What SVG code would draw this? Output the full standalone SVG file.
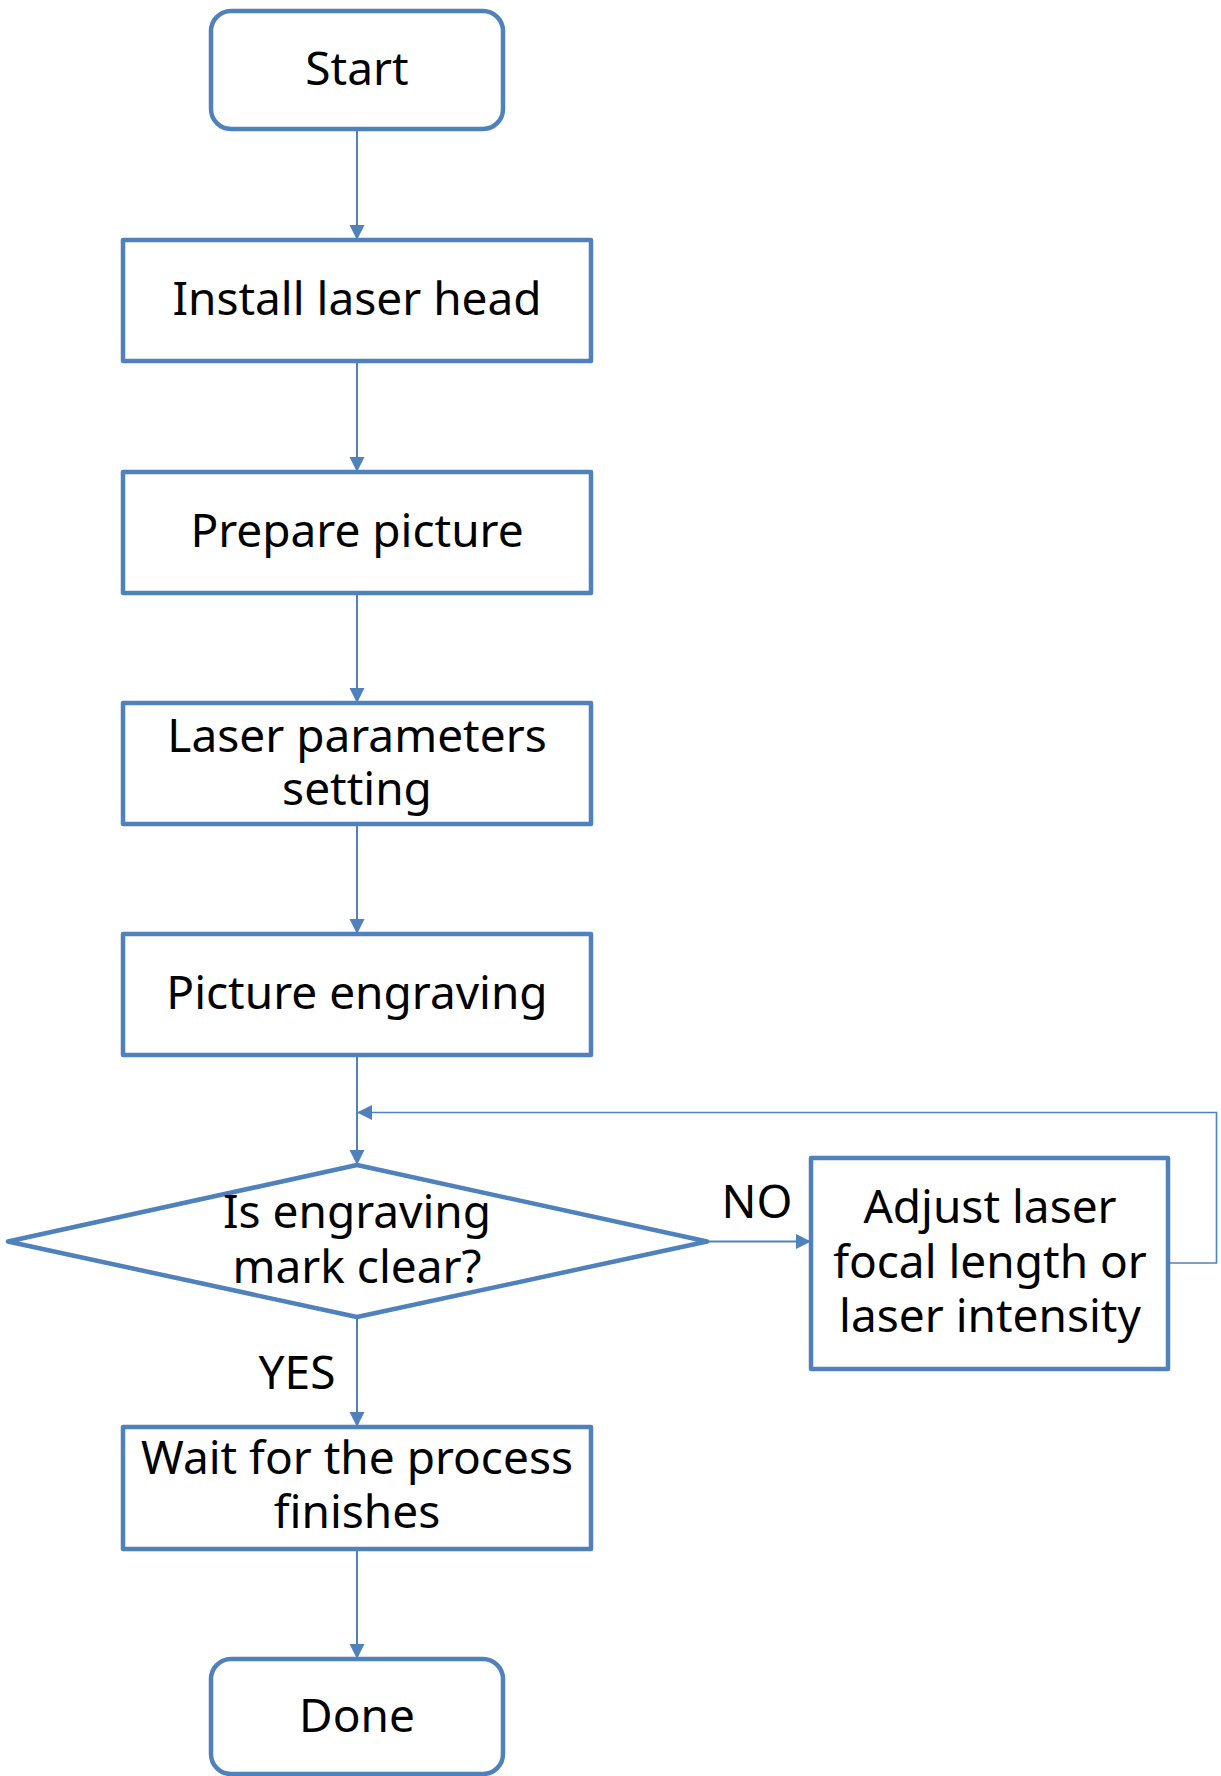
<svg xmlns="http://www.w3.org/2000/svg" width="1221" height="1776" viewBox="0 0 1221 1776">
<style>
.box{fill:#fff;stroke:#4F81BD;stroke-width:4.5;stroke-linejoin:round}
.conn{fill:none;stroke:#4F81BD;stroke-width:2}
.thin{fill:none;stroke:#4F81BD;stroke-width:1.6}
text{font-family:"Noto Sans","Open Sans","DejaVu Sans",sans-serif;font-size:46px;fill:#000;text-anchor:middle}
</style>
<defs>
<marker id="arr" markerUnits="userSpaceOnUse" markerWidth="16" markerHeight="16" refX="15" refY="7.5" orient="auto">
<path d="M0,0 L15,7.5 L0,15 z" fill="#4F81BD"/>
</marker>
</defs>
<rect width="1221" height="1776" fill="#fff"/>
<g id="connectors">
<line class="conn" x1="357" y1="129" x2="357" y2="240" marker-end="url(#arr)"/>
<line class="conn" x1="357" y1="361" x2="357" y2="472" marker-end="url(#arr)"/>
<line class="conn" x1="357" y1="593" x2="357" y2="703" marker-end="url(#arr)"/>
<line class="conn" x1="357" y1="824" x2="357" y2="934" marker-end="url(#arr)"/>
<line class="conn" x1="357" y1="1055" x2="357" y2="1165" marker-end="url(#arr)"/>
<line class="conn" x1="357" y1="1317" x2="357" y2="1427" marker-end="url(#arr)"/>
<line class="conn" x1="357" y1="1549" x2="357" y2="1659" marker-end="url(#arr)"/>
<line class="conn" x1="707" y1="1241.5" x2="811" y2="1241.5" marker-end="url(#arr)"/>
<polyline class="thin" points="1168,1263 1216.5,1263 1216.5,1112.5 357,1112.5" marker-end="url(#arr)"/>
<text x="757" y="1218">NO</text>
<text x="297" y="1389">YES</text>
</g>
<g id="start">
<rect class="box" x="211" y="11" width="292" height="118" rx="20"/>
<text x="357" y="85">Start</text>
</g>
<g id="install">
<rect class="box" x="123" y="240" width="468" height="121"/>
<text x="357" y="315">Install laser head</text>
</g>
<g id="prepare">
<rect class="box" x="123" y="472" width="468" height="121"/>
<text x="357" y="547">Prepare picture</text>
</g>
<g id="params">
<rect class="box" x="123" y="703" width="468" height="121"/>
<text x="357" y="752">Laser parameters</text>
<text x="357" y="805">setting</text>
</g>
<g id="engrave">
<rect class="box" x="123" y="934" width="468" height="121"/>
<text x="357" y="1009">Picture engraving</text>
</g>
<g id="decision">
<polygon class="box" points="357,1165 707,1241.5 357,1317 8,1241.5"/>
<text x="357" y="1228">Is engraving</text>
<text x="357" y="1283">mark clear?</text>
</g>
<g id="adjust">
<rect class="box" x="811" y="1158" width="357" height="211"/>
<text x="990" y="1223">Adjust laser</text>
<text x="990" y="1278">focal length or</text>
<text x="990" y="1332">laser intensity</text>
</g>
<g id="wait">
<rect class="box" x="123" y="1427" width="468" height="122"/>
<text x="357" y="1474">Wait for the process</text>
<text x="357" y="1528">finishes</text>
</g>
<g id="done">
<rect class="box" x="211" y="1659" width="292" height="115" rx="20"/>
<text x="357" y="1732">Done</text>
</g>
</svg>
